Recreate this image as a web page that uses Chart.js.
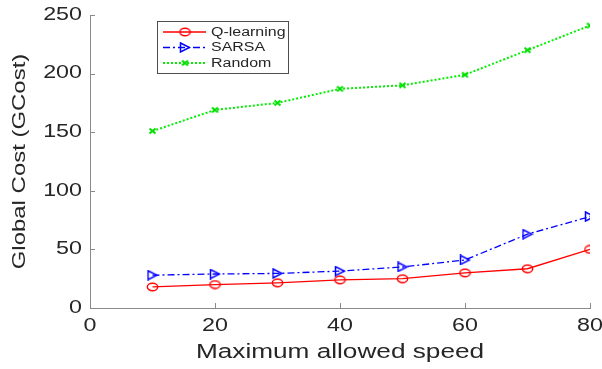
<!DOCTYPE html>
<html>
<head>
<meta charset="utf-8">
<script src="https://cdn.jsdelivr.net/npm/chart.js@4.4.0/dist/chart.umd.min.js"></script>
<style>
  body { margin: 0; background: #fff; }
  canvas { display: block; }
</style>
</head>
<body>
<canvas id="chart" width="602" height="369"></canvas>
<script>
const speeds = [10, 20, 30, 40, 50, 60, 70, 80];
const qLearning = [18, 20, 21.5, 24, 25, 30, 33.5, 50];
const sarsa = [28, 29, 29.5, 31.5, 35, 41, 63, 78];
const random = [151, 169, 175, 187, 190, 199, 220, 241];

const xTicks = [0, 20, 40, 60, 80];
const yTicks = [0, 50, 100, 150, 200, 250];

const textColor = '#262626';
const axisColor = '#8a8a8a';
const fontFamily = "'Liberation Sans', Arial, sans-serif";

// the figure's fonts are drawn wide, so stretch every text horizontally
const STRETCH = 1.33;

const canvas = document.getElementById('chart');
const ctx = canvas.getContext('2d');
const baseMeasure = ctx.measureText.bind(ctx);
const baseFill = ctx.fillText.bind(ctx);
ctx.measureText = (t) => {
    const m = baseMeasure(t);
    return {
        width: m.width * STRETCH,
        actualBoundingBoxAscent: m.actualBoundingBoxAscent,
        actualBoundingBoxDescent: m.actualBoundingBoxDescent,
        actualBoundingBoxLeft: m.actualBoundingBoxLeft * STRETCH,
        actualBoundingBoxRight: m.actualBoundingBoxRight * STRETCH
    };
};
ctx.fillText = (t, x, y) => {
    ctx.save();
    ctx.translate(x, y);
    ctx.scale(STRETCH, 1);
    baseFill(t, 0, 0);
    ctx.restore();
};

// marker images (markers look slightly wide as well)
const makeMarker = (w, h, draw) => {
    const c = document.createElement('canvas');
    c.width = w;
    c.height = h;
    draw(c.getContext('2d'), w, h);
    return c;
};

const circleMark = makeMarker(13, 10, (g, w, h) => {
    g.strokeStyle = '#ff0000';
    g.lineWidth = 1.4;
    g.beginPath();
    g.ellipse(w / 2, h / 2, 5.2, 3.8, 0, 0, Math.PI * 2);
    g.stroke();
});

const triangleMark = makeMarker(12, 11, (g, w, h) => {
    g.strokeStyle = '#0000ff';
    g.lineWidth = 1.5;
    g.beginPath();
    g.moveTo(1.5, 1);
    g.lineTo(w - 1.5, h / 2);
    g.lineTo(1.5, h - 1);
    g.closePath();
    g.stroke();
});

const crossMark = makeMarker(9, 8, (g, w, h) => {
    g.strokeStyle = '#00e000';
    g.lineWidth = 2;
    g.beginPath();
    g.moveTo(1.5, 1.5);
    g.lineTo(w - 1.5, h - 1.5);
    g.moveTo(w - 1.5, 1.5);
    g.lineTo(1.5, h - 1.5);
    g.stroke();
});

const toPoints = (ys) => speeds.map((x, i) => ({ x: x, y: ys[i] }));

// small inward tick marks, as in the original axes
const innerTicks = {
    id: 'innerTicks',
    afterDraw(chart) {
        const c = chart.ctx;
        const xs = chart.scales.x, ys = chart.scales.y;
        c.save();
        c.strokeStyle = axisColor;
        c.lineWidth = 1;
        c.beginPath();
        xTicks.forEach(v => {
            if (v === 0) return;
            const px = Math.round(xs.getPixelForValue(v)) + 0.5;
            c.moveTo(px, ys.bottom);
            c.lineTo(px, ys.bottom - 5);
        });
        yTicks.forEach(v => {
            if (v === 0) return;
            const py = Math.round(ys.getPixelForValue(v)) + 0.5;
            c.moveTo(xs.left, py);
            c.lineTo(xs.left + 5, py);
        });
        c.stroke();
        c.restore();
    }
};

// legend box in the upper left of the plot
const boxLegend = {
    id: 'boxLegend',
    afterDraw(chart) {
        const c = chart.ctx;
        const left = 157, top = 21, width = 131, height = 52;
        c.save();
        c.fillStyle = '#fff';
        c.fillRect(left, top, width, height);
        c.strokeStyle = '#4d4d4d';
        c.lineWidth = 1;
        c.strokeRect(left + 0.5, top + 0.5, width, height);
        chart.data.datasets.forEach((ds, i) => {
            const y = top + 11 + i * 15.5;
            c.strokeStyle = ds.borderColor;
            c.lineWidth = ds.borderWidth;
            c.setLineDash(ds.borderDash || []);
            c.beginPath();
            c.moveTo(left + 6, y);
            c.lineTo(left + 49, y);
            c.stroke();
            c.setLineDash([]);
            const img = ds.pointStyle;
            c.drawImage(img, left + 28 - img.width / 2, y - img.height / 2);
            c.fillStyle = textColor;
            c.font = '12px ' + fontFamily;
            c.textBaseline = 'middle';
            c.textAlign = 'left';
            c.fillText(ds.label, left + 54, y + 0.5);
        });
        c.restore();
    }
};

new Chart(ctx, {
    type: 'line',
    data: {
        datasets: [
            {
                label: 'Q-learning',
                data: toPoints(qLearning),
                borderColor: '#ff0000',
                borderWidth: 1.3,
                pointStyle: circleMark,
                pointRadius: 5
            },
            {
                label: 'SARSA',
                data: toPoints(sarsa),
                borderColor: '#0000ff',
                borderWidth: 1.3,
                borderDash: [7, 3, 2, 3],
                pointStyle: triangleMark,
                pointRadius: 5
            },
            {
                label: 'Random',
                data: toPoints(random),
                borderColor: '#00f000',
                borderWidth: 2,
                borderDash: [2, 2],
                pointStyle: crossMark,
                pointRadius: 4
            }
        ]
    },
    options: {
        responsive: false,
        animation: false,
        layout: { padding: { top: 15, right: 12, left: 0, bottom: 0 } },
        plugins: {
            legend: { display: false },
            tooltip: { enabled: false }
        },
        elements: { line: { tension: 0, fill: false } },
        scales: {
            x: {
                type: 'linear',
                min: 0,
                max: 80,
                afterBuildTicks: (scale) => { scale.ticks = xTicks.map(v => ({ value: v })); },
                afterFit: (scale) => {
                    scale.height = 61;
                    scale.paddingLeft = 0;
                    scale.paddingRight = 0;
                },
                grid: { display: false, drawTicks: false },
                border: { display: true, color: axisColor, width: 1 },
                ticks: {
                    padding: 8,
                    maxRotation: 0,
                    color: textColor,
                    font: { family: fontFamily, size: 17.5 }
                },
                title: {
                    display: true,
                    text: 'Maximum allowed speed',
                    color: textColor,
                    font: { family: fontFamily, size: 19.7 },
                    padding: { top: 0, bottom: 5 }
                }
            },
            y: {
                min: 0,
                max: 250,
                afterBuildTicks: (scale) => { scale.ticks = yTicks.map(v => ({ value: v })); },
                afterFit: (scale) => {
                    scale.width = 90;
                    scale.paddingTop = 0;
                    scale.paddingBottom = 0;
                },
                grid: { display: false, drawTicks: false },
                border: { display: true, color: axisColor, width: 1 },
                ticks: {
                    padding: 8,
                    color: textColor,
                    font: { family: fontFamily, size: 17.5 }
                },
                title: {
                    display: true,
                    text: 'Global Cost (GCost)',
                    color: textColor,
                    font: { family: fontFamily, size: 18 },
                    padding: { top: 9, bottom: 0 }
                }
            }
        }
    },
    plugins: [innerTicks, boxLegend]
});
</script>
</body>
</html>
